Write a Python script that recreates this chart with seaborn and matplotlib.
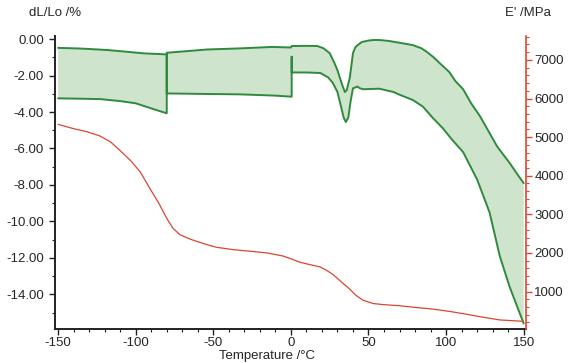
import numpy as np
import pandas as pd
import matplotlib
matplotlib.use('Agg')
import matplotlib.pyplot as plt
import seaborn as sns
from matplotlib.ticker import MultipleLocator, FormatStrFormatter

sns.set_theme(style='ticks')
plt.rcParams['font.family'] = ['Liberation Sans', 'DejaVu Sans']
plt.rcParams['axes.unicode_minus'] = False

GREEN = '#2e8a3c'
FILL = '#cfe4cc'
RED = '#dc4530'

# --- dL/Lo upper envelope (%) ---
upper_T = [-150, -135, -118, -105, -95, -80, -80, -70, -54, -33, -12, 0, 0.5, 10, 17, 21, 25, 28,
           30, 33, 34.8, 36, 38, 40, 41.5, 43, 45.7, 50, 53, 57, 63, 70, 78.6, 84, 87.6, 92, 96,
           102, 106, 111, 116, 122, 127, 133, 137, 141, 145, 150]
upper_v = [-0.48, -0.52, -0.60, -0.70, -0.78, -0.84, -0.75, -0.68, -0.57, -0.51, -0.43, -0.46, -0.38,
           -0.37, -0.38, -0.50, -0.77, -1.30, -1.70, -2.50, -2.90, -2.80, -2.10, -0.77, -0.45, -0.33,
           -0.16, -0.08, -0.05, -0.05, -0.10, -0.20, -0.33, -0.50, -0.70, -1.00, -1.33, -1.80, -2.30,
           -2.75, -3.50, -4.25, -5.00, -5.90, -6.35, -6.80, -7.30, -7.90]

# --- dL/Lo lower envelope (%) ---
lower_T = [-150, -135, -123, -110, -100, -90, -80, -80, -80, -54, -33, -10, 0.5, 0.5, 0.5, 10, 19,
           24, 27, 30, 32, 34, 35.4, 37, 38.5, 40, 43, 44, 46.4, 57, 66, 70, 78.6, 85, 91.5, 98,
           103.7, 111, 120, 128, 134.6, 141, 150]
lower_v = [-3.25, -3.27, -3.29, -3.40, -3.52, -3.80, -4.07, -0.84, -2.98, -3.01, -3.03, -3.10, -3.16,
           -0.97, -1.83, -1.83, -1.86, -2.10, -2.40, -2.90, -3.60, -4.30, -4.55, -4.30, -3.40, -2.70,
           -2.60, -2.68, -2.75, -2.72, -2.90, -3.05, -3.34, -3.70, -4.33, -4.90, -5.50, -6.20, -7.70,
           -9.50, -11.90, -13.60, -15.60]

# --- E' storage modulus (MPa) ---
red_T = [-150, -140, -131.5, -123, -116, -110, -103, -97, -90.8, -85, -80, -76, -71.4, -65, -60.7,
         -52, -47.8, -37, -25, -15.4, -5, 0, 5.8, 12, 18.7, 23, 27, 32, 38, 42, 46.4, 53, 60, 70,
         80, 91.5, 102, 112, 121.7, 134.6, 149.4]
red_v = [5330, 5220, 5140, 5030, 4870, 4650, 4380, 4094, 3667, 3280, 2897, 2640, 2470, 2360, 2300,
         2190, 2146, 2085, 2040, 2000, 1920, 1850, 1760, 1700, 1640, 1550, 1444, 1270, 1060, 900,
         777, 690, 660, 633, 590, 546, 487, 420, 350, 265, 230]

upper = pd.DataFrame({'T': upper_T, 'v': upper_v})
lower = pd.DataFrame({'T': lower_T, 'v': lower_v})
emod = pd.DataFrame({'T': red_T, 'v': red_v})

fig = plt.figure(figsize=(5.7, 3.63), dpi=100)
ax = fig.add_axes([55 / 570, 34 / 363, 471 / 570, 293 / 363])

# shaded band between the two envelopes
ax.fill(np.concatenate([upper['T'], lower['T'][::-1]]),
        np.concatenate([upper['v'], lower['v'][::-1]]),
        color=FILL, lw=0, zorder=1)
sns.lineplot(data=upper, x='T', y='v', ax=ax, sort=False, estimator=None, color=GREEN, lw=1.4, zorder=3)
sns.lineplot(data=lower, x='T', y='v', ax=ax, sort=False, estimator=None, color=GREEN, lw=1.4, zorder=3)

ax.set_xlim(-152, 151.5)
ax.set_ylim(-15.9, 0.17)
ax.xaxis.set_major_locator(MultipleLocator(50))
ax.xaxis.set_minor_locator(MultipleLocator(10))
ax.yaxis.set_major_locator(MultipleLocator(2))
ax.yaxis.set_minor_locator(MultipleLocator(1))
ax.yaxis.set_major_formatter(FormatStrFormatter('%.2f'))
ax.tick_params(axis='both', which='major', labelsize=9.5, length=4, width=1, color='#222222', pad=2)
ax.tick_params(axis='y', which='major', pad=4)
ax.tick_params(axis='both', which='minor', length=2, width=0.8, color='#222222')
ax.set_ylabel('')
ax.set_xlabel('Temperature /°C', fontsize=9.5, labelpad=1)
ax.xaxis.set_label_coords(0.45, -0.072)
for s in ['left', 'bottom']:
    ax.spines[s].set_color('#222222')
    ax.spines[s].set_linewidth(1.4)
ax.spines['top'].set_visible(False)
ax.spines['right'].set_visible(False)

ax2 = ax.twinx()
sns.lineplot(data=emod, x='T', y='v', ax=ax2, sort=False, estimator=None, color=RED, lw=0.9)
ax2.set_ylim(30, 7620)
ax2.yaxis.set_major_locator(MultipleLocator(1000))
ax2.yaxis.set_minor_locator(MultipleLocator(200))
ax2.yaxis.set_major_formatter(FormatStrFormatter('%d'))
ax2.tick_params(axis='y', which='major', labelsize=9.5, length=4, width=1, color=RED, pad=2)
ax2.tick_params(axis='y', which='minor', length=2, width=0.8, color=RED)
ax2.set_ylabel('')
ax2.spines['right'].set_color(RED)
ax2.spines['right'].set_linewidth(1.2)
for s in ['top', 'left', 'bottom']:
    ax2.spines[s].set_visible(False)

fig.text(29 / 570, 1 - 12.7 / 363, 'dL/Lo /%', fontsize=9.5, va='center', ha='left')
fig.text(505 / 570, 1 - 12.7 / 363, "E' /MPa", fontsize=9.5, va='center', ha='left')

fig.savefig('out.png', dpi=100)
